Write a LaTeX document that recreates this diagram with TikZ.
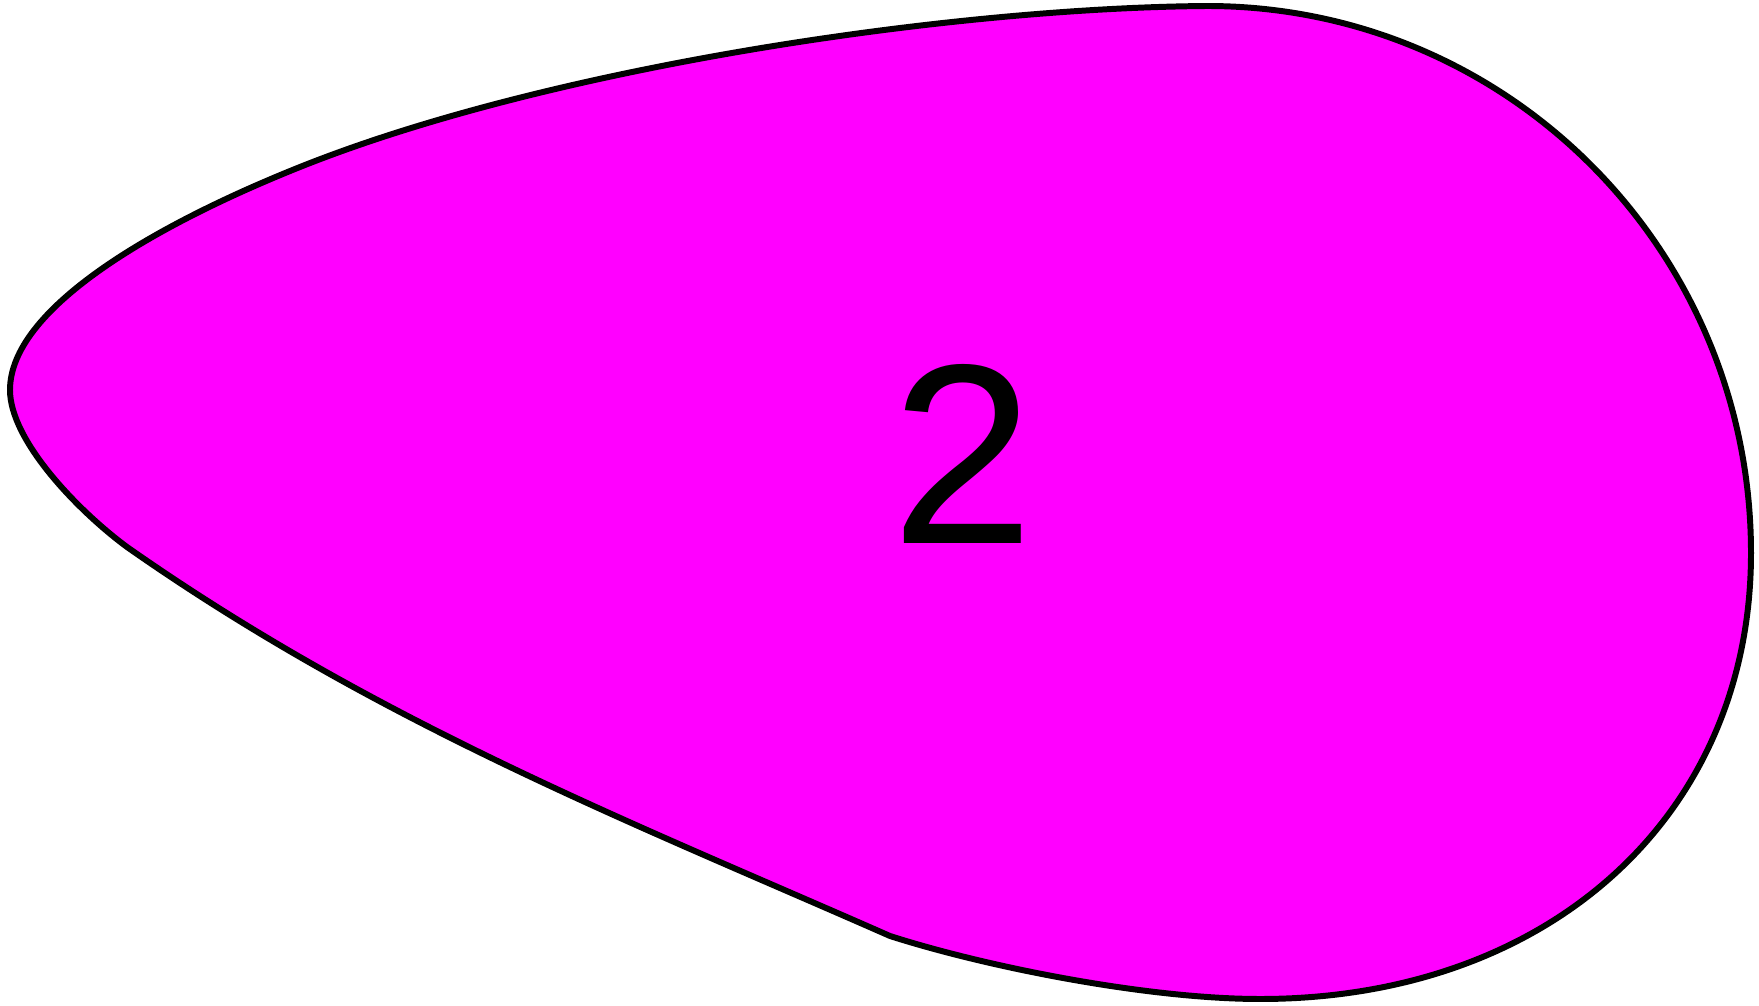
\documentclass[tikz,border=0pt]{standalone}
\usepackage{fontspec}
\setmainfont{Liberation Sans}
\usepackage{xcolor}
\usepackage{tikz}
\usetikzlibrary{calc}
\definecolor{blobfill}{RGB}{255,0,255}
\definecolor{blobline}{RGB}{0,0,0}

\begin{document}
\begin{tikzpicture}[x=0.02cm,y=-0.02cm,
    blob/.style={fill=blobfill, draw=blobline, line width=3.4pt, line join=round},
    numlabel/.style={inner sep=0pt, font=\fontsize{146}{146}\selectfont}]
  \useasboundingbox (0,0) rectangle (1759,1006);
  % outline points
  \coordinate (kink)   at (890,936);
  \coordinate (lowl)   at (127,547);
  \coordinate (tip)    at (10,390);
  \coordinate (upl)    at (300,167);
  \coordinate (top)    at (1207,6);
  \coordinate (right)  at (1751,553);
  \coordinate (bottom) at (1260,999);
  \draw[blob] (kink)
      .. controls (636,824) and (381,725) .. (lowl)
      .. controls (77,510) and (10,440) .. (tip)
      .. controls (10,310) and (150,227) .. (upl)
      .. controls (550,67) and (950,8) .. (top)
      .. controls (1508,6) and (1751,250) .. (right)
      .. controls (1751,815) and (1550,999) .. (bottom)
      .. controls (1150,999) and (990,968) .. (kink) -- cycle;
  \node[numlabel] (two) at (963,454) {2};
\end{tikzpicture}
\end{document}
